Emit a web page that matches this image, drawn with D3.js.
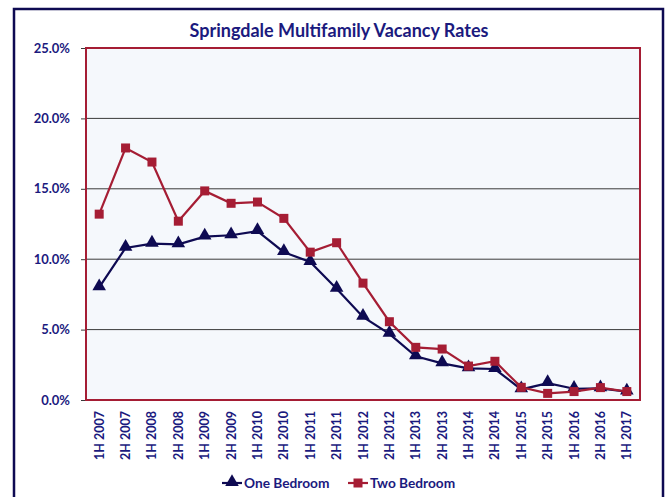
<!DOCTYPE html>
<html>
<head>
<meta charset="utf-8">
<script src="https://cdn.jsdelivr.net/npm/d3@7"></script>
<style>
	body { margin:0; background:#fff; }
	text { font-family: Lato, "Open Sans", sans-serif; font-weight:bold; fill:#1b1a7e; }
</style>
</head>
<body>
<div id="chart"></div>
<script>
var periods = ['1H 2007','2H 2007','1H 2008','2H 2008','1H 2009','2H 2009','1H 2010','2H 2010',
	'1H 2011','2H 2011','1H 2012','2H 2012','1H 2013','2H 2013','1H 2014','2H 2014',
	'1H 2015','2H 2015','1H 2016','2H 2016','1H 2017'];
var oneBedroom = [8.0,10.8,11.1,11.05,11.6,11.7,12.0,10.5,9.8,7.9,5.9,4.7,3.1,2.6,2.25,2.2,0.75,1.2,0.8,0.83,0.6];
var twoBedroom = [13.2,17.9,16.9,12.7,14.85,13.97,14.06,12.9,10.5,11.17,8.3,5.56,3.74,3.62,2.41,2.75,0.9,0.47,0.6,0.88,0.6];
var yTicks = [0,5,10,15,20,25];

var svg_width=665,
	svg_height=497,
	plot_left=86, plot_right=640, plot_top=48, plot_bottom=400,
	navy="#0e0a52",
	red="#a51d34";

var svg = d3.select("#chart").append("svg")
	.attr("width", svg_width)
	.attr("height", svg_height);

// outer frame
svg.append("rect")
	.attr("x",14).attr("y",9)
	.attr("width",649).attr("height",500)
	.attr("fill","#fff")
	.attr("stroke",navy)
	.attr("stroke-width",2.5);

var x = d3.scalePoint().domain(periods).range([plot_left,plot_right]).padding(0.5);
var y = d3.scaleLinear().domain([0,25]).range([plot_bottom,plot_top]);

svg.append("rect")
	.attr("x",plot_left).attr("y",plot_top)
	.attr("width",plot_right-plot_left).attr("height",plot_bottom-plot_top)
	.attr("fill","#f5f8fc");

// gridlines
svg.append("g").selectAll("line")
	.data(yTicks.filter(function (d) { return d>0 && d<25; }))
	.enter().append("line")
	.attr("x1",plot_left).attr("x2",plot_right)
	.attr("y1",function (d) { return y(d); })
	.attr("y2",function (d) { return y(d); })
	.attr("stroke","#3a3a3a")
	.attr("stroke-width",1);

// y axis
var yAxis = svg.append("g")
	.attr("transform","translate("+plot_left+",0)")
	.call(d3.axisLeft(y).tickValues(yTicks).tickSize(5).tickPadding(11)
		.tickFormat(function (d) { return d.toFixed(1)+"%"; }));
yAxis.select(".domain").remove();
yAxis.selectAll(".tick line").attr("stroke","#3a3a3a");
yAxis.selectAll(".tick text").attr("font-size",13).attr("font-family",null).style("fill","#1b1a7e");

// x labels
svg.append("g").selectAll("text")
	.data(periods)
	.enter().append("text")
	.attr("transform",function (d) { return "translate("+(x(d)+4.5)+","+411+") rotate(-90)"; })
	.attr("text-anchor","end")
	.attr("font-size",12.5)
	.text(function (d) { return d; });

// plot border
svg.append("rect")
	.attr("x",plot_left).attr("y",plot_top)
	.attr("width",plot_right-plot_left).attr("height",plot_bottom-plot_top)
	.attr("fill","none")
	.attr("stroke",red)
	.attr("stroke-width",2);

var line = d3.line()
	.x(function (d,i) { return x(periods[i]); })
	.y(function (d) { return y(d); });

var triangle = d3.symbol().type(d3.symbolTriangle).size(80);

function drawSeries(values, color, marker) {
	svg.append("path")
		.datum(values)
		.attr("d",line)
		.attr("fill","none")
		.attr("stroke",color)
		.attr("stroke-width",2.2);
	var g = svg.append("g");
	if (marker=="square") {
		g.selectAll("rect").data(values).enter().append("rect")
			.attr("x",function (d,i) { return x(periods[i])-4.5; })
			.attr("y",function (d) { return y(d)-4.5; })
			.attr("width",9).attr("height",9)
			.attr("fill",color);
	} else {
		g.selectAll("path").data(values).enter().append("path")
			.attr("d",triangle)
			.attr("transform",function (d,i) { return "translate("+x(periods[i])+","+(y(d)-1)+")"; })
			.attr("fill",color);
	}
}

drawSeries(oneBedroom, navy, "triangle");
drawSeries(twoBedroom, red, "square");

// title
svg.append("text")
	.attr("x",339).attr("y",37)
	.attr("text-anchor","middle")
	.attr("font-size",18)
	.text("Springdale Multifamily Vacancy Rates");

// legend
var legend = [{name:"One Bedroom", color:navy, marker:"triangle", x:222},
	{name:"Two Bedroom", color:red, marker:"square", x:348}];
var lg = svg.append("g").selectAll("g").data(legend).enter().append("g")
	.attr("transform",function (d) { return "translate("+d.x+",483)"; });
lg.append("line")
	.attr("x1",0).attr("x2",20)
	.attr("stroke",function (d) { return d.color; })
	.attr("stroke-width",2.2);
lg.each(function (d) {
	if (d.marker=="square") {
		d3.select(this).append("rect").attr("x",5.5).attr("y",-4.5).attr("width",9).attr("height",9).attr("fill",d.color);
	} else {
		d3.select(this).append("path").attr("d",triangle).attr("transform","translate(10,-1)").attr("fill",d.color);
	}
});
lg.append("text")
	.attr("x",22).attr("y",4.5)
	.attr("font-size",13.7)
	.text(function (d) { return d.name; });
</script>
</body>
</html>
